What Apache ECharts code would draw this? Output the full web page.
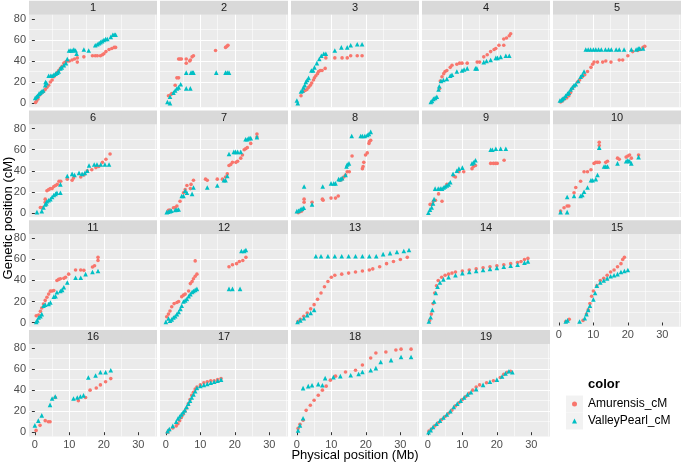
<!DOCTYPE html>
<html><head><meta charset="utf-8">
<script src="https://cdn.jsdelivr.net/npm/echarts@6/dist/echarts.min.js"></script>
<style>html,body{margin:0;padding:0;background:#fff}#c{width:684px;height:462px}</style>
</head><body><div id="c"></div>
<script>
// ---- data: [physical position (Mb), genetic position (cM)] ----
const panels = ['1','2','3','4','5','6','7','8','9','10','11','12','13','14','15','16','17','18','19'];
const seriesNames = ['Amurensis_cM', 'ValleyPearl_cM'];
const xTicks = [0, 10, 20, 30];
const yTicks = [0, 20, 40, 60, 80];

const A1 = [[0.2,0.5],[0.5,2],[0.9,4],[1.1,7],[1.5,8],[2,10],[2.5,11],[3,13],[3.5,15],[4,17],[4.5,20],[5,22],[5.5,25],[6,27],[6.5,29],[6.9,31],[7.4,33],[7.9,35],[8.4,38],[8.9,39],[9.4,40],[10,40],[10.8,41],[11.5,42],[12.3,43],[12.3,39],[14.2,44],[16.7,45],[17.5,45],[18.1,45],[19,45],[19.6,46],[20,47],[20.6,49],[21.5,51],[22.3,52],[23,53],[23.4,53]];
const V1 = [[0.1,5],[0.5,6],[0.8,7],[1.2,9],[1.6,10],[2,11],[2.4,12],[3,17],[3.1,20],[3.4,19],[4,26],[4.6,26],[5,26],[5.5,27],[6,28],[6.5,29],[6.9,30],[7.4,33],[7.8,34],[8.4,36],[9,38],[9.4,42],[9.9,50],[10.4,50],[10.8,50],[11.3,51],[11.8,50],[12.1,47],[14.2,51],[15.6,50],[17.5,55],[18.1,56],[18.6,57],[19,58],[19.5,59],[20,60],[20.5,61],[21,61],[22,63],[22.6,65],[23,65],[23.4,65]];
const A2 = [[0.75,7],[1.4,8],[1.7,9],[2.7,17],[3.2,24],[3.7,24],[3.7,42],[4.1,42],[4.5,42],[5.9,42],[5.9,38],[6.9,40],[7.1,41],[7.6,44],[8,45],[14.4,50],[17.3,53],[17.7,54],[18,55]];
const V2 = [[0.45,1],[1.2,0],[1.2,6],[2.2,10],[2.7,12],[3.2,14],[3.7,15],[4.3,18],[5.9,14],[7.1,14],[5.9,29],[7.3,29],[7.7,29],[8,29],[14.6,29],[17.3,29],[17.8,29],[18.3,29]];
const A3 = [[1.2,7],[1.9,11],[2.4,12],[2.9,13],[3.4,15],[3.9,17],[4.3,19],[4.8,22],[5.1,24],[5.5,26],[6,28],[6.3,30],[6.8,31],[7.3,31],[8.2,33],[8.4,43],[11,43],[13.1,43],[14.6,43],[15.6,45],[17.5,45],[18.9,45]];
const V3 = [[0,2.5],[0.25,0],[1.2,11],[1.6,12],[1.9,15],[2.3,17],[2.6,20],[3,22],[3.4,24],[4.2,31],[4.7,31],[5.1,34],[5.8,38],[6.5,42],[7.1,45],[7.8,47],[8.4,47],[11,50],[12.9,53],[14.6,53],[15.6,55],[17.5,56],[18.9,56]];
const A4 = [[3.4,14],[3.6,21],[4.1,25],[4.6,28],[5,30],[5.5,31],[6.5,34],[7,36],[8.4,37],[9.2,38],[9.9,38],[11.4,38],[14.3,39],[15,39],[16.2,44],[17.2,46],[18.2,49],[19.2,51],[19.7,52],[20.6,55],[22,55],[22,61],[22.8,62],[23.6,64],[24,66]];
const V4 = [[0.85,1],[1.2,2],[1.6,4],[2.1,5],[2.6,6],[3.1,13],[3.3,16],[3.8,21],[4.5,22],[5.5,23],[6.5,26],[7,27],[8.4,30],[9.9,31],[10.5,32],[11.4,33],[13.8,33],[14.2,33],[16.2,39],[17,40],[18.2,41],[19.7,43],[20.2,43],[21.1,44],[22.6,45],[23.6,45]];
const A5 = [[0.5,1],[1,2],[1.5,4],[2.3,5],[2.9,7],[3.4,10],[3.9,14],[4.4,16],[5.4,20],[6,22],[6.8,25],[7.5,27],[8.3,30],[9.3,34],[9.8,37],[10.2,39],[11.2,39],[12.7,39],[13.6,40],[15.1,39],[17.5,41],[18.5,41],[20,45],[21.4,49],[22.9,50],[23.6,51],[24.4,53],[24.9,54]];
const V5 = [[0.3,2.5],[0.7,3],[1,4],[1.5,5],[1.95,7],[2.5,9],[2.9,10],[3.4,13],[3.9,15],[4.4,17],[4.9,18],[5.6,21],[6.3,25],[6.8,27],[7.3,30],[7.8,51],[8.5,51],[9.2,51],[10,51],[10.7,51],[11.5,51],[12.3,51],[13.5,51],[14.4,51],[15.2,51],[16.6,51],[17.5,51],[18.9,51],[21,51],[22.4,51],[23,52],[23.4,52],[24.4,52]];
const A6 = [[1.6,5],[2.2,5],[3,13],[3,10],[3.5,21],[4,22],[4.5,23],[5,23],[5.5,25],[6,26],[6.5,27],[7,30],[7.5,30],[9.4,32],[10.8,31],[11.2,33],[13.3,34],[14.2,36],[15.2,40],[16.5,41],[17.7,43],[18.5,44],[19.6,48],[20.6,51],[21.8,56]];
const V6 = [[0.6,0.6],[2,1.6],[2.5,5],[3,8],[3.3,9],[3.5,11],[4,12],[4.5,13],[5,15],[5.5,17],[6,18],[6.4,19],[7.4,19],[7.4,27],[9.4,35],[10.8,37],[11.5,36],[12.8,38],[13.7,37],[14.5,38],[15.2,40],[15.7,45],[17.2,46],[18,46],[19.1,46],[20.3,46],[21.5,46]];
const A7 = [[0.75,2.3],[1.2,2.5],[2.2,4.8],[2.7,5],[3.2,6.5],[4.1,11],[5.1,19],[5.6,22],[6.1,26],[7.1,23],[7.3,27],[8,31],[11.5,32],[12,31],[14.9,32],[16.4,32],[17.3,34],[17.8,37],[18.3,45],[18.8,46],[19.3,48],[20.3,48],[20.8,49],[21.7,52],[22.2,55],[22.7,60],[23.1,61],[23.6,62],[24.6,66],[26.4,75],[26.4,72]];
const V7 = [[0.25,0.6],[0.7,1],[1.2,1.6],[1.6,2],[2.7,2.6],[3.2,3],[3.7,3.2],[4.6,16],[5.1,16],[5.6,21],[6.1,19],[7.6,18],[8,24],[12,24],[14.9,26],[16.8,31],[17.3,31],[17.8,35],[18.3,56],[19.7,58],[20.2,58],[20.8,58],[21.7,58],[23.1,70],[23.6,70],[24.1,71],[24.6,71],[26.4,72]];
const A8 = [[0.4,0],[0.9,1],[1.4,1.6],[2.1,13],[2.1,10],[4.4,10],[7.4,13],[7.6,12],[9.9,14],[11.2,14],[12,16],[12.6,31],[13.1,32],[13.6,34],[14.1,36],[14.6,39],[15.2,39],[16,54],[19,42],[19.2,44],[19.4,48],[19.9,55],[20.4,57],[20.9,66],[21.1,68],[21.4,69]];
const V8 = [[0,1.6],[0.5,2],[1,3.2],[1.5,4],[2,4.8],[2.1,25],[4.4,8],[7.5,25],[9.9,28],[10.7,28],[11.2,28],[12.1,32],[12.6,32],[13.1,33],[14.1,36],[14.6,46],[15.1,47],[14.4,44],[15.9,73],[18.5,73],[19,73],[19.7,73],[20.4,74],[20.9,75],[21.4,77]];
const A9 = [[0.65,8],[1.1,8],[1.6,11],[2.2,12],[3.1,18],[4.1,11],[5.5,27],[7.5,35],[8,34],[9,39],[10.4,39],[12.8,42],[13.2,44],[13.8,45],[18.2,47],[19,47],[19.6,47],[20.1,47],[22.1,50]];
const V9 = [[0.15,0],[0.6,3],[1.1,5],[1.5,9],[1.8,13],[2.1,23],[3,23],[3.6,23],[4.1,23],[4.6,24],[5,25],[5.5,26],[6,27],[6.5,29],[7.3,37],[8.4,40],[9,42],[10,43],[12.8,47],[13.3,48],[13.8,50],[18.2,60],[18.7,60],[19.7,61],[21.1,61],[22.6,61]];
const A10 = [[0.5,1.6],[1.5,4.8],[2.4,6.5],[2.9,6.5],[4.4,19],[4.9,24],[6.3,30],[7.3,39],[8.3,39],[9.3,41],[10.2,47],[10.7,48],[11.2,48],[11.7,48],[11.7,67],[11.7,64],[13.6,48],[14.1,49],[17,52],[17.5,51],[19.5,53],[20,54],[20.5,55],[21,52],[23.1,55]];
const V10 = [[0.5,0.6],[2.4,0.6],[2.4,15],[4.4,16],[6.3,16],[6.8,17],[7.3,20],[8.3,24],[9.3,31],[9.8,31],[10.7,32],[11.2,36],[11.7,62],[13.1,44],[13.6,44],[14.1,44],[17,47],[19.5,49],[20,50],[20.5,49],[21,47],[23.1,53]];
const A11 = [[0.4,6.4],[1.1,7],[1.6,10.6],[2,13.8],[2.5,17.6],[3,21],[3.5,24],[4,27],[4.5,29.8],[5,30],[5.5,30.4],[6.4,40],[6.9,41],[7.4,41.6],[8.4,42],[8.9,43],[9.8,46],[11.8,50],[13.3,50],[14.2,49.6],[16.7,52.8],[17.3,54],[18.3,59],[18.3,62]];
const V11 = [[0.4,0.6],[0.7,2],[1.1,4.8],[1.6,6],[2,8],[2.5,16],[3,17],[4,17.6],[4.5,19],[5.5,24.6],[6,25],[6.4,28.8],[7.4,30],[7.9,31],[8.4,33.6],[9.4,38],[11.8,42.6],[13.3,42.6],[14.7,46],[16.7,48],[18.3,49]];
const A12 = [[0.25,5.4],[0.75,8],[1.2,11],[1.7,15],[2.4,18],[3.2,19],[3.7,20],[4.6,24.6],[5.1,26],[5.6,27],[6.6,30],[7.1,37],[7.6,39],[8,41.6],[8.5,44],[9,46],[8.5,58.6],[18.3,53],[19.3,55],[20.5,56],[21.3,58],[22.3,59],[23.2,62]];
const V12 = [[0,0.6],[0.75,3.8],[1.2,1.6],[1.7,3],[2.2,4.8],[2.7,6],[3.2,8],[3.7,10],[4.2,13],[4.6,16],[5.1,20],[5.6,21],[6.1,22.4],[6.6,25],[7.1,27],[7.6,29],[8,30],[8.5,31],[9,32],[18.3,32],[19.3,32],[21.5,32],[21.9,68],[22.7,68],[23.2,69]];
const A13 = [[0.3,1],[1,3],[2,6],[3,9],[4,13],[5,17],[6,22],[7,28],[8,34],[9,39],[10,43],[11,45],[13,46],[15,47],[17,48],[19,49],[21,50],[22,51],[24,53],[26,56],[28,58],[30,60],[32,62]];
const V13 = [[0.2,0.5],[1,2],[2,4],[3,7],[4,9],[5,12],[5.5,63],[7,63],[9,63],[11,63],[13,63],[15,63],[17,63],[19,63],[21,63],[23,63],[25,65],[27,66],[29,67],[31,68],[32.5,69]];
const A14 = [[0.5,2],[1,8],[1.5,18],[2,28],[2.5,35],[3,40],[4,43],[5,45],[6,46],[7,47],[8,48],[10,49],[12,50],[14,51],[16,52],[18,53],[20,54],[22,55],[24,56],[26,57],[27,58],[28,60],[29,61]];
const V14 = [[0.3,1],[0.8,5],[1.3,12],[1.8,20],[2.3,28],[2.8,34],[3.5,38],[4.5,41],[6,43],[8,45],[10,47],[12,48],[14,49],[16,50],[18,51],[20,52],[22,53],[24,54],[26,55],[28,57],[29,58]];
const A15 = [[2,1],[3,3],[7,2],[8,8],[8.5,12],[9,18],[9.5,25],[10,30],[11,35],[12,40],[13,42],[14,45],[15,48],[16,50],[17,53],[18,56],[18.5,60],[19,62]];
const V15 = [[2,1],[2.5,2],[6,1],[7.5,4],[8,8],[8.5,12],[9,16],[10,22],[10.5,28],[11,35],[12,38],[13,40],[14,42],[15,44],[16,45],[17,46],[18,48],[19,49],[20,50]];
const A16 = [[0.35,1.7],[1.5,6.5],[3,11],[3.9,10],[4.4,10],[5.9,33],[12.6,30],[14.7,33],[16,40],[17.8,42],[19,45],[20.5,48],[22,51]];
const V16 = [[0,6.5],[1,11],[2,16],[4.4,26],[5,32],[5.9,34],[11.2,32],[12.3,33],[13.2,34],[14.1,35],[15.5,52],[17.6,54],[19,57],[20.5,57],[22,59]];
const A17 = [[0.5,0],[1,2],[2,4],[3,6],[3.5,8],[4,11],[4.5,14],[5,17],[5.5,20],[6,23],[6.5,27],[7,31],[7.5,35],[8,38],[8.5,41],[9,43],[10,45],[11,47],[12,48],[13,49],[14,49],[15,50],[16,51]];
const V17 = [[0.5,1],[1,3],[2,6],[3,10],[3.5,13],[4,15],[4.5,17],[5,19],[5.5,21],[6,24],[6.5,27],[7,30],[7.5,33],[8,36],[8.5,39],[9,42],[10,44],[11,45],[12,46],[13,47],[14,48],[15,49],[16,50]];
const A18 = [[0.35,3.6],[0.9,7.5],[1.8,11.3],[2.7,20.8],[3.9,25.6],[5,30.4],[6.2,35.2],[7.4,40],[8.5,43.8],[9.7,49.5],[11.2,53.3],[14.1,57.2],[17,59],[19,63.9],[21.4,70.6],[22.9,75.4],[25.8,76.3],[28.7,78.2],[30.2,79],[33.1,79]];
const V18 = [[0.35,1.7],[0.9,6.5],[1.8,13.2],[1.8,41.9],[3.3,43.8],[4.4,44.7],[6.2,45.7],[7.4,44.7],[8.2,51.4],[10.6,52.4],[12.6,53.3],[15.6,54.2],[17.9,55.3],[19,57.2],[21.4,59],[22.9,61],[24.3,66.8],[27.3,68.6],[30.2,71.5],[33.1,71.5]];
const A19 = [[0.3,1],[1,3],[2,6],[3,9],[4,12],[5,15],[6,18],[7,21],[8,25],[9,28],[10,31],[11,34],[12,37],[13,40],[14,43],[15,45],[17,47],[19,49],[21,52],[22,55],[23,57],[24,58]];
const V19 = [[0.2,0],[0.8,2],[1.5,5],[2.5,8],[3.5,11],[4.5,14],[5.5,17],[6.5,20],[7.5,24],[8.5,27],[9.5,30],[10.5,33],[11.5,36],[12.5,38],[14,41],[16,45],[18,48],[20,50],[21.5,53],[22.5,56],[23.5,58],[24.5,57]];

const amurensis = [A1,A2,A3,A4,A5,A6,A7,A8,A9,A10,A11,A12,A13,A14,A15,A16,A17,A18,A19];
const valleyPearl = [V1,V2,V3,V4,V5,V6,V7,V8,V9,V10,V11,V12,V13,V14,V15,V16,V17,V18,V19];

// ---- layout ----
const colLeft = [29, 160, 291, 422, 553];
const rowTop = [14.8, 124.5, 234.2, 343.9];
const W = 128, H = 92.5, STRIP = 14;
const RED = '#F8766D', CYAN = '#00BFC4';
const FONT = '"Liberation Sans", Arial, sans-serif';

const grids = [], xAxes = [], yAxes = [], series = [], graphics = [];
panels.forEach((p, i) => {
  const r = Math.floor(i / 5), c = i % 5;
  const left = colLeft[c], top = rowTop[r];
  grids.push({left: left, top: top, width: W, height: H, show: true, backgroundColor: '#EBEBEB', borderWidth: 0, containLabel: false});
  const showX = (r === 3) || (i === 14);
  const showY = (c === 0);
  const common = {
    type: 'value', gridIndex: i,
    axisLine: {show: false},
    splitLine: {show: true, showMinLine: false, showMaxLine: false, lineStyle: {color: '#FFFFFF', width: 1.1}},
    minorTick: {show: false, splitNumber: 2},
    minorSplitLine: {show: true, lineStyle: {color: '#FFFFFF', width: 0.55}}
  };
  xAxes.push(Object.assign({}, common, {
    min: -1.7, max: 35.4, splitNumber: 5,
    axisTick: {show: showX, length: 3, lineStyle: {color: '#333333', width: 1}, customValues: xTicks},
    axisLabel: {show: showX, customValues: xTicks, margin: 3, color: '#4D4D4D', fontSize: 11, fontFamily: FONT}
  }));
  yAxes.push(Object.assign({}, common, {
    min: -4, max: 84, splitNumber: 5,
    axisTick: {show: showY, length: 3, lineStyle: {color: '#333333', width: 1}, customValues: yTicks},
    axisLabel: {show: showY, customValues: yTicks, margin: 3, color: '#4D4D4D', fontSize: 11, fontFamily: FONT}
  }));
  series.push({
    type: 'scatter', name: seriesNames[0], xAxisIndex: i, yAxisIndex: i,
    data: amurensis[i], symbol: 'circle', symbolSize: 3.6,
    itemStyle: {color: RED, opacity: 1}, silent: true
  });
  series.push({
    type: 'scatter', name: seriesNames[1], xAxisIndex: i, yAxisIndex: i,
    data: valleyPearl[i], symbol: 'triangle', symbolSize: 4.6,
    itemStyle: {color: CYAN, opacity: 1}, silent: true
  });
  graphics.push({type: 'rect', shape: {x: left, y: top - STRIP, width: W, height: STRIP}, style: {fill: '#D9D9D9'}, silent: true});
  graphics.push({type: 'text', x: left + W / 2, y: top - STRIP / 2 + 0.5, style: {text: p, fill: '#1A1A1A', font: '11px ' + FONT, textAlign: 'center', textVerticalAlign: 'middle'}, silent: true});
});

// axis titles
graphics.push({type: 'text', x: 355, y: 455, style: {text: 'Physical position (Mb)', fill: '#000', font: '13px ' + FONT, textAlign: 'center', textVerticalAlign: 'middle'}, silent: true});
graphics.push({type: 'text', x: 8, y: 218, rotation: Math.PI / 2, style: {text: 'Genetic position (cM)', fill: '#000', font: '13px ' + FONT, textAlign: 'center', textVerticalAlign: 'middle'}, silent: true});
// legend title and key backgrounds
graphics.push({type: 'text', x: 588, y: 384, style: {text: 'color', fill: '#000', font: 'bold 13px ' + FONT, textAlign: 'left', textVerticalAlign: 'middle'}, silent: true});
graphics.push({type: 'rect', z: -1, shape: {x: 566, y: 395.5, width: 17, height: 17}, style: {fill: '#F2F2F2'}, silent: true});
graphics.push({type: 'rect', z: -1, shape: {x: 566, y: 412.5, width: 17, height: 17}, style: {fill: '#F2F2F2'}, silent: true});

const chart = echarts.init(document.getElementById('c'), null, {renderer: 'canvas'});
chart.setOption({
  animation: false,
  backgroundColor: '#FFFFFF',
  grid: grids, xAxis: xAxes, yAxis: yAxes, series: series,
  legend: {
    orient: 'vertical', left: 567, top: 390.5, padding: 5, itemWidth: 5, itemHeight: 5, itemGap: 0,
    selectedMode: false,
    data: [{name: seriesNames[0], icon: 'circle'}, {name: seriesNames[1], icon: 'triangle'}],
    textStyle: {fontSize: 12, color: '#000', fontFamily: FONT, lineHeight: 17, padding: [0, 0, 0, 6]}
  },
  graphic: graphics
});
</script>
</body></html>
